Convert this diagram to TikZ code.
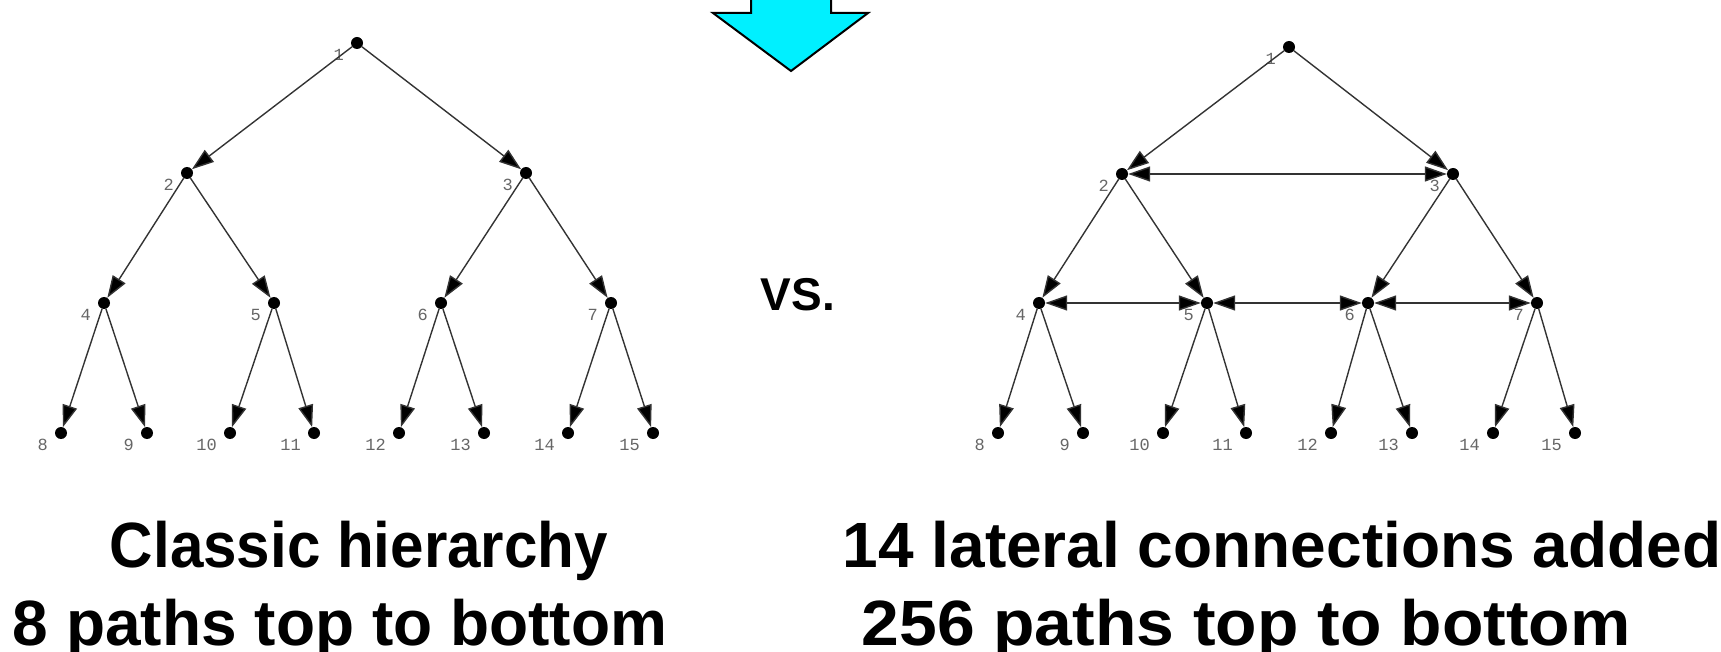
\documentclass[tikz,border=0pt]{standalone}
\usepackage{fontspec}
\setmainfont{Liberation Sans}
\newfontfamily\monofont{Liberation Mono}
\usetikzlibrary{arrows.meta}
\definecolor{aqua}{RGB}{0,240,255}
\begin{document}
\begin{tikzpicture}[x=1pt,y=-1pt,
  dot/.style={circle,fill=black,inner sep=0pt,minimum size=12pt},
  lbl/.style={anchor=east,font=\monofont\fontsize{17}{17}\selectfont,text=black!60,inner sep=0pt},
  tip/.style={Triangle[length=22pt,width=15pt,fill=black]},
  edge/.style={draw=black!80,line width=1.4pt,-{Triangle[length=22pt,width=15pt,fill=black]}},
  lat/.style={draw=black!80,line width=1.4pt,{Triangle[length=22pt,width=15pt,fill=black]}-{Triangle[length=22pt,width=15pt,fill=black]}},
  title/.style={font=\bfseries\fontsize{64}{64}\selectfont,anchor=base,inner sep=0pt}]
\useasboundingbox (0,0) rectangle (1721,652);

% cyan arrow
\draw[fill=aqua,line width=2pt,line join=miter] (751,-5) -- (831,-5) -- (831,13) -- (868,13) -- (791,71) -- (713,13) -- (751,13) -- cycle;

% left tree
\foreach \n/\x/\y in {1/357/43, 2/187/173, 3/526/173, 4/104/303, 5/274/303, 6/441/303, 7/611/303,
  8/61/433, 9/147/433, 10/230/433, 11/314/433, 12/399/433, 13/484/433, 14/568/433, 15/653/433} {
  \node[dot] (L\n) at (\x,\y) {};
  \node[lbl] (Lt\n) at (\x-13,\y+12) {\n};
}
\foreach \a/\b in {1/2,1/3,2/4,2/5,3/6,3/7,4/8,4/9,5/10,5/11,6/12,6/13,7/14,7/15}
  \draw[edge] (L\a) -- (L\b);

% right tree
\foreach \n/\x/\y in {1/1289/47, 2/1122/174, 3/1453/174, 4/1039/303, 5/1207/303, 6/1368/303, 7/1537/303,
  8/998/433, 9/1083/433, 10/1163/433, 11/1246/433, 12/1331/433, 13/1412/433, 14/1493/433, 15/1575/433} {
  \node[dot] (R\n) at (\x,\y) {};
  \node[lbl] (Rt\n) at (\x-13,\y+12) {\n};
}
\foreach \a/\b in {1/2,1/3,2/4,2/5,3/6,3/7,4/8,4/9,5/10,5/11,6/12,6/13,7/14,7/15}
  \draw[edge] (R\a) -- (R\b);
\foreach \a/\b in {2/3,4/5,5/6,6/7}
  \draw[lat] (R\a) -- (R\b);

% texts
\node[font=\bfseries\fontsize{46}{46}\selectfont,anchor=base,inner sep=0pt] (vs) at (798,310) {VS.};
\node[title,xscale=0.94] (t1) at (359,567) {Classic hierarchy};
\node[title] (t2) at (340,645) {8 paths top to bottom};
\node[title] (t3) at (1282,567) {14 lateral connections added};
\node[title,xscale=1.06] (t4) at (1246,645) {256 paths top to bottom};
\end{tikzpicture}
\end{document}
